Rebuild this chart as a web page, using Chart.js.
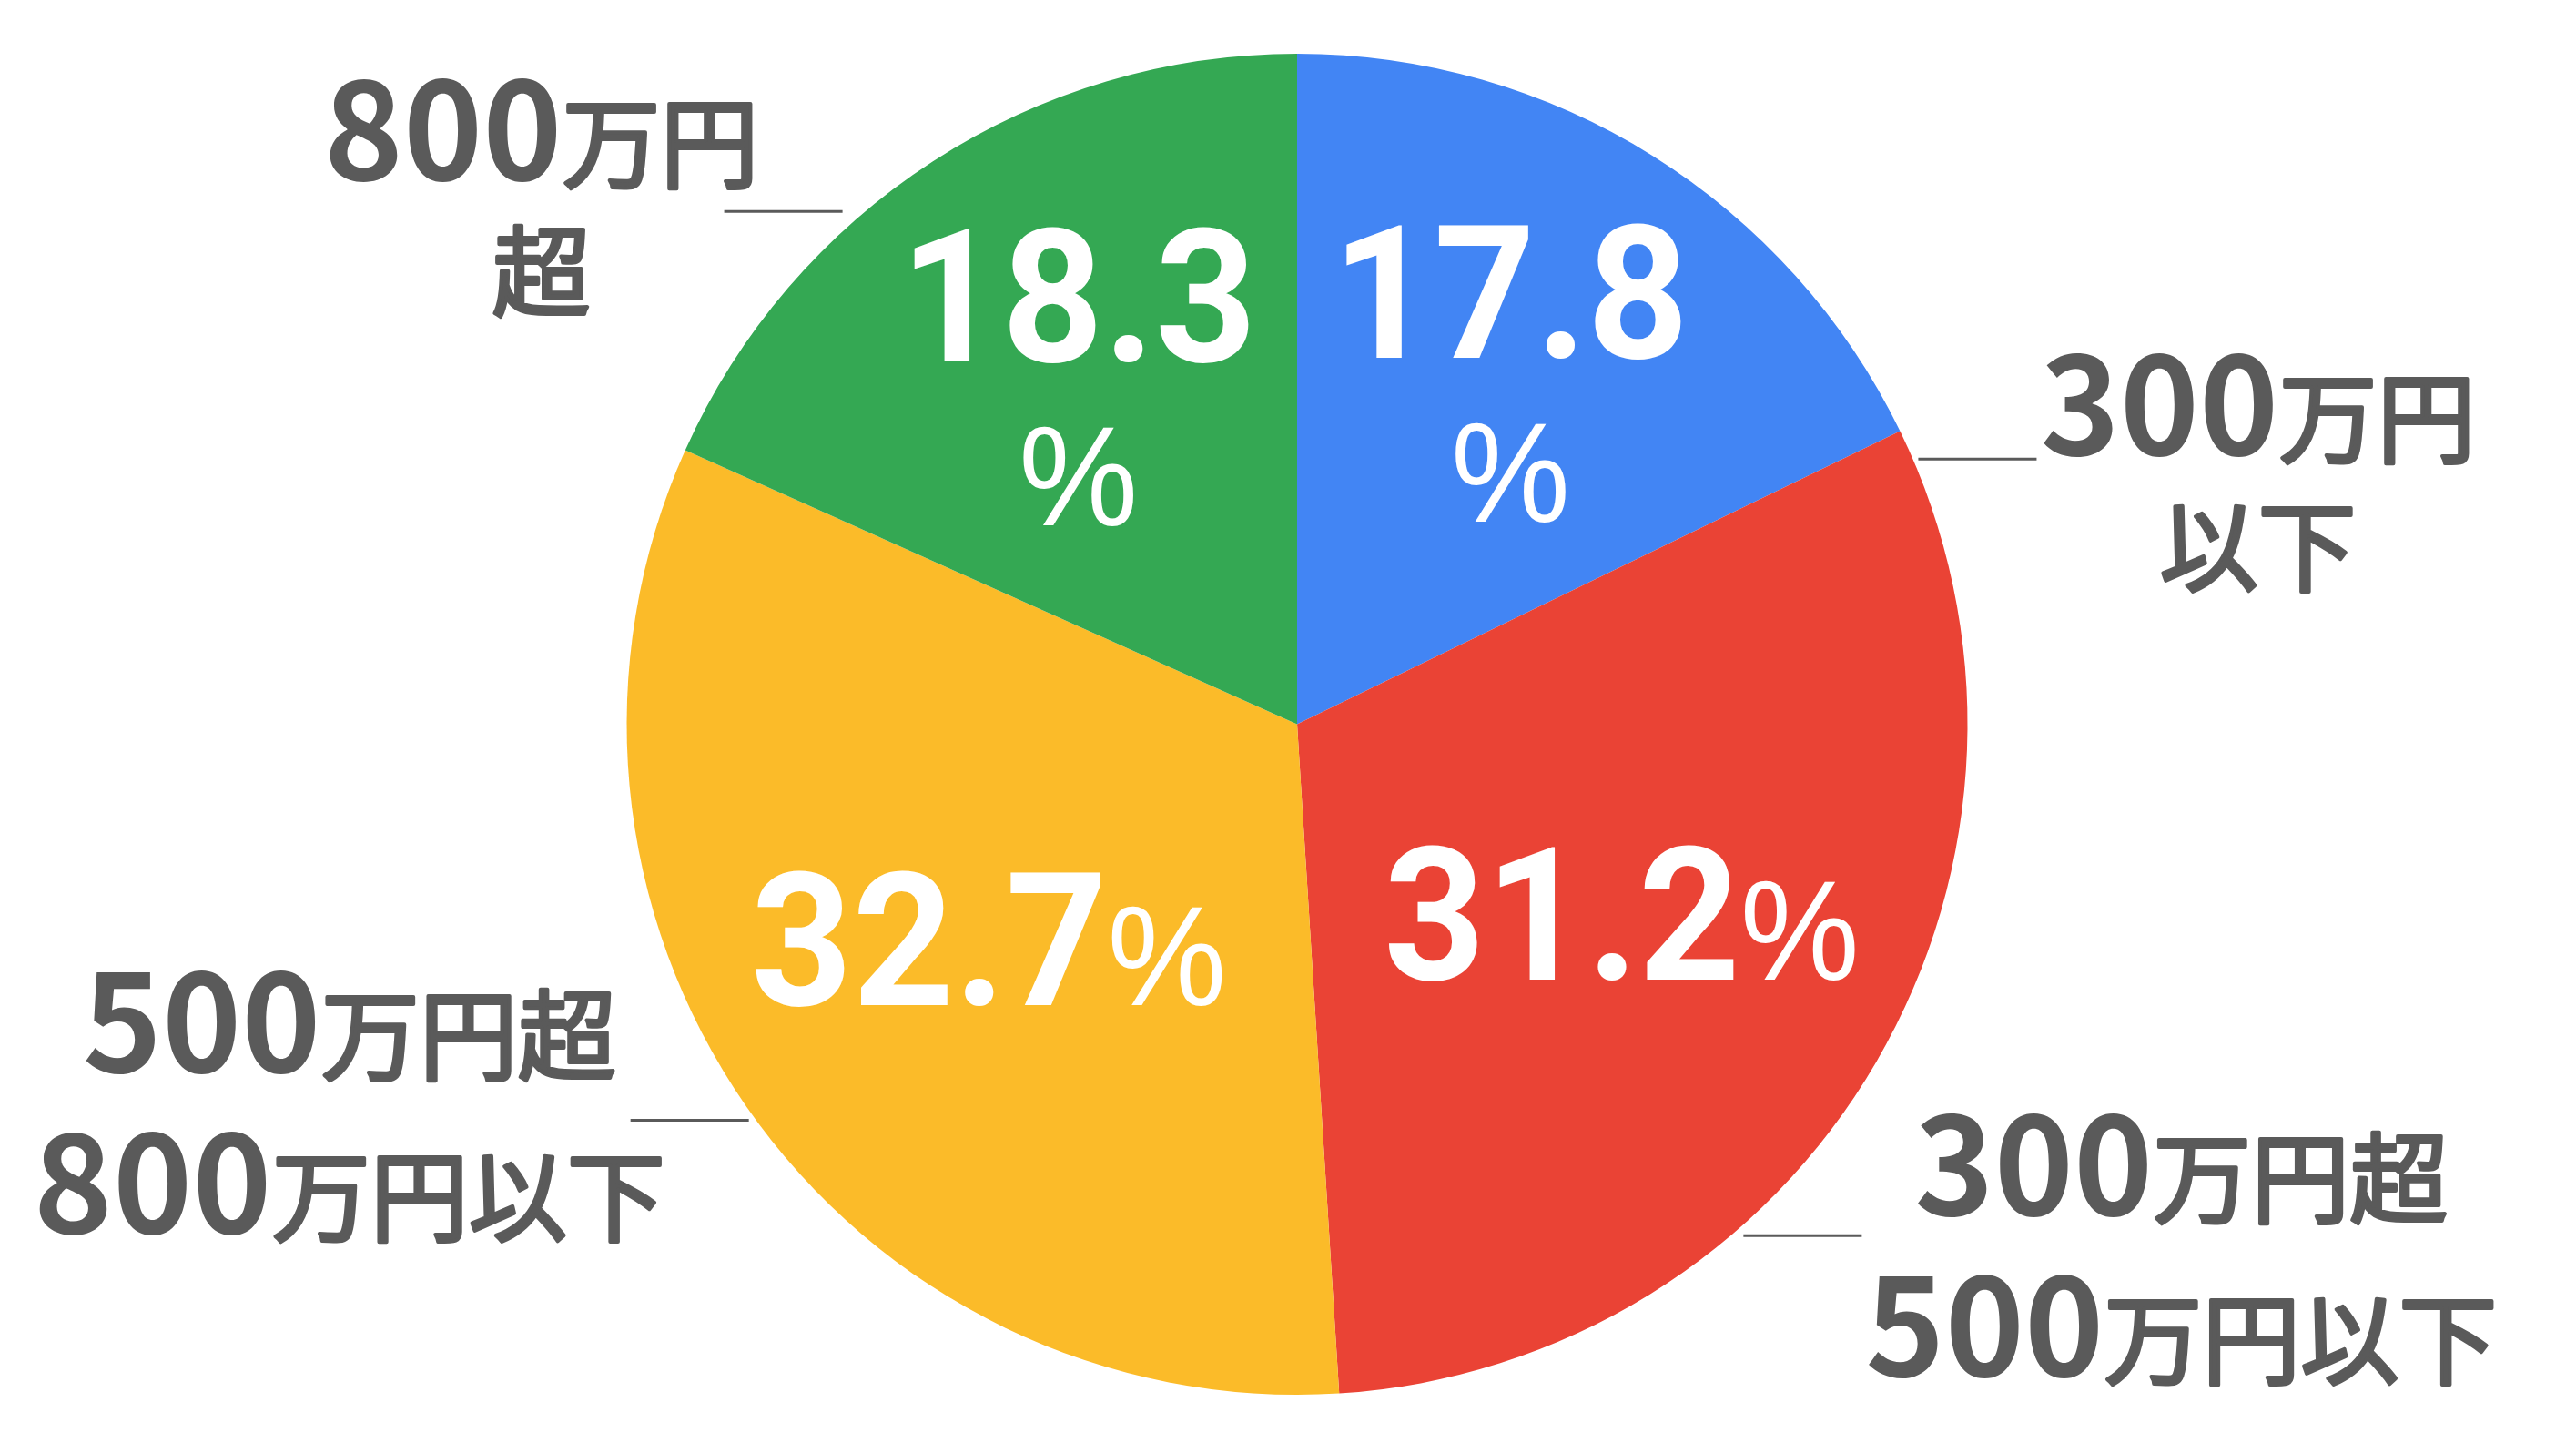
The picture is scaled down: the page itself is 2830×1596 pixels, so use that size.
<!DOCTYPE html>
<html lang="ja">
<head>
<meta charset="utf-8">
<title>年収分布</title>
<script src="https://cdn.jsdelivr.net/npm/chart.js@4"></script>
<style>
	html, body { margin: 0; padding: 0; background: #fff; }
	canvas { display: block; }
</style>
</head>
<body>
<canvas id="incomeChart" width="2830" height="1596"></canvas>
<script>
// Data
const categories = [
	['300万円', '以下'],
	['300万円超', '500万円以下'],
	['500万円超', '800万円以下'],
	['800万円', '超'],
]
const shares = [17.8, 31.2, 32.7, 18.3]
const sliceColors = ['#4285f4', '#ea4335', '#fbbb29', '#34a853']

// Leader lines: angle clockwise from the top (degrees) and gap from the pie edge (px)
const leaderAngles = [66.7, 139.7, 233.8, 319.9]
const leaderGaps = [6, 14, 8, 25]

const textGray = '#5a5a5a'
const outerBig = 'bold 148px "Noto Sans CJK JP"'
const outerSmall = '108px "Noto Sans CJK JP"'
const innerBig = 'bold 205px Roboto'
const innerSmall = '155px "Liberation Sans"'

// Split text into runs: digits and dots in the big font, the rest in the small one
function textRuns(text) {
	const runs = []
	for (const ch of text) {
		const big = /[0-9.]/.test(ch)
		const last = runs[runs.length - 1]
		if (last && last.big === big) last.text += ch
		else runs.push({ text: ch, big })
	}
	return runs
}

function richWidth(ctx, text, big, small) {
	let w = 0
	textRuns(text).forEach(run => {
		ctx.font = run.big ? big : small
		w += ctx.measureText(run.text).width
	})
	return w
}

function drawRich(ctx, text, left, baseline, big, small, thicken) {
	let x = left
	ctx.textAlign = 'left'
	ctx.textBaseline = 'alphabetic'
	textRuns(text).forEach(run => {
		ctx.font = run.big ? big : small
		ctx.fillText(run.text, x, baseline)
		if (thicken && !run.big) {
			ctx.lineWidth = thicken
			ctx.lineJoin = 'round'
			ctx.strokeStyle = ctx.fillStyle
			ctx.strokeText(run.text, x, baseline)
		}
		x += ctx.measureText(run.text).width
	})
}

const pieLabels = {
	id: 'pieLabels',
	afterDatasetsDraw(chart) {
		const ctx = chart.ctx
		const arcs = chart.getDatasetMeta(0).data
		ctx.save()

		// Percent labels inside the slices
		const squeeze = 0.95
		arcs.forEach((arc, i) => {
			const p = arc.getProps(['x', 'y', 'startAngle', 'endAngle', 'outerRadius'], true)
			const mid = (p.startAngle + p.endAngle) / 2
			const wrap = shares[i] < 25
			const dist = p.outerRadius * (wrap ? 0.6 : 0.56)
			const cx = p.x + Math.cos(mid) * dist
			const cy = p.y + Math.sin(mid) * dist
			const num = shares[i].toFixed(1)
			ctx.fillStyle = '#fff'
			const lines = wrap ? [num, '%'] : [num + '%']
			let baseline = wrap ? cy - 28 : cy + 73
			lines.forEach(line => {
				const w = richWidth(ctx, line, innerBig, innerSmall) * squeeze
				ctx.save()
				ctx.translate(cx - w / 2, baseline)
				ctx.scale(squeeze, 1)
				drawRich(ctx, line, 0, 0, innerBig, innerSmall, 0)
				ctx.restore()
				baseline += 180
			})
		})

		// Category labels outside with leader lines
		arcs.forEach((arc, i) => {
			const p = arc.getProps(['x', 'y', 'outerRadius'], true)
			const a = (leaderAngles[i] * Math.PI) / 180 - Math.PI / 2
			const ex = p.x + Math.cos(a) * p.outerRadius
			const ey = p.y + Math.sin(a) * p.outerRadius
			const right = Math.cos(a) > 0
			const len = 130
			const x1 = right ? ex + leaderGaps[i] : ex - leaderGaps[i]
			const x2 = right ? x1 + len : x1 - len

			ctx.strokeStyle = textGray
			ctx.lineWidth = 3
			ctx.beginPath()
			ctx.moveTo(x1, ey)
			ctx.lineTo(x2, ey)
			ctx.stroke()

			const lines = categories[i]
			const widths = lines.map(l => richWidth(ctx, l, outerBig, outerSmall))
			const maxW = Math.max(...widths)
			const centerX = right ? x2 + 4 + maxW / 2 : x2 + 38 - maxW / 2
			const steps = lines.slice(1).map(l => (/[0-9]/.test(l) ? 177 : 141))
			const span = steps.reduce((s, v) => s + v, 0)
			let baseline = ey + (right ? 66 : 36) - span / 2
			ctx.fillStyle = textGray
			lines.forEach((line, j) => {
				if (j > 0) baseline += steps[j - 1]
				drawRich(ctx, line, centerX - widths[j] / 2, baseline, outerBig, outerSmall, 4)
			})
		})

		ctx.restore()
	},
}

const incomeChart = new Chart(document.getElementById('incomeChart').getContext('2d'), {
	type: 'pie',
	data: {
		labels: categories,
		datasets: [
			{
				data: shares,
				backgroundColor: sliceColors,
				borderWidth: 0,
			},
		],
	},
	options: {
		responsive: false,
		animation: false,
		devicePixelRatio: 1,
		layout: { padding: { top: 59, bottom: 64, left: 20, right: 0 } },
		plugins: {
			legend: { display: false },
			tooltip: { enabled: false },
		},
	},
	plugins: [pieLabels],
})
</script>
</body>
</html>
